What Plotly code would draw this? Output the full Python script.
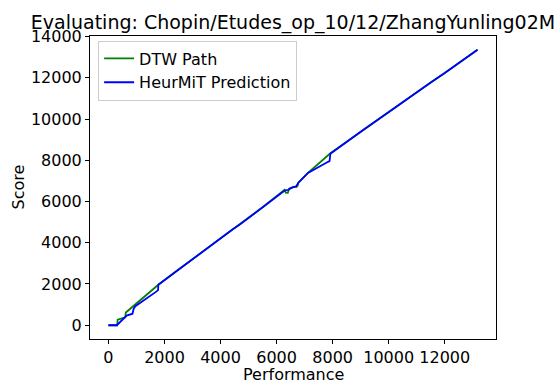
import plotly.graph_objects as go

# DTW path (performance time vs score time)
perf_dtw = [0, 310, 330, 600, 620, 1000, 1400, 1780, 2500, 3500, 4400, 4700,
            5500, 6280, 6330, 6400, 6440, 6540, 6620, 6700, 6750, 6770,
            7120, 7920, 9000, 10000, 11000, 11500, 12000, 12500, 13170]
score_dtw = [0, 0, 270, 380, 620, 1060, 1520, 1960, 2700, 3710, 4620, 4900,
             5720, 6560, 6430, 6420, 6580, 6680, 6720, 6700, 6760, 6900,
             7390, 8340, 9380, 10350, 11300, 11770, 12230, 12700, 13360]

# HeurMiT prediction
perf_heur = [0, 300, 650, 860, 900, 960, 1720, 1770, 1780, 2500, 3500, 4400, 4700,
             5500, 6300, 6420, 6460, 6700, 6770, 7120, 7420, 7790, 7890, 7920,
             9000, 10000, 11000, 11500, 12000, 12500, 13170]
score_heur = [0, 0, 470, 560, 800, 920, 1640, 1700, 1960, 2700, 3710, 4620, 4900,
              5720, 6540, 6570, 6630, 6740, 6900, 7390, 7630, 7890, 7960, 8320,
              9380, 10350, 11300, 11770, 12230, 12700, 13360]

x_ticks = [0, 2000, 4000, 6000, 8000, 10000, 12000]
x_tick_labels = ["0", "2000", "4000", "6000", "8000", "10000", "12000"]
y_ticks = [0, 2000, 4000, 6000, 8000, 10000, 12000, 14000]
y_tick_labels = ["0", "2000", "4000", "6000", "8000", "10000", "12000", "14000"]

FONT = "DejaVu Sans"
W, H = 558, 381
ML, MR, MT, MB = 90, 62, 36, 42
PW, PH = W - ML - MR, H - MT - MB

fig = go.Figure()
fig.add_trace(go.Scatter(x=perf_dtw, y=score_dtw, mode="lines", name="DTW Path",
                         line=dict(color="#008000", width=1.8)))
fig.add_trace(go.Scatter(x=perf_heur, y=score_heur, mode="lines", name="HeurMiT Prediction",
                         line=dict(color="#0000ff", width=1.8)))

axis_common = dict(
    showline=True, linecolor="black", linewidth=1, mirror=True,
    ticks="outside", ticklen=4, tickwidth=1, tickcolor="black",
    showgrid=False, zeroline=False,
    tickfont=dict(family=FONT, size=16, color="black"),
    automargin=False,
)

fig.update_layout(
    width=W, height=H,
    margin=dict(l=ML, r=MR, t=MT, b=MB),
    paper_bgcolor="white", plot_bgcolor="white",
    font=dict(family=FONT, size=16, color="black"),
    title=dict(text="Evaluating: Chopin/Etudes_op_10/12/ZhangYunling02M",
               x=0.5, xref="paper", xanchor="center",
               y=1 - 22 / H, yref="container", yanchor="middle",
               font=dict(family=FONT, size=19, color="black")),
    xaxis=dict(range=[-658, 13829], tickvals=x_ticks, ticktext=x_tick_labels,
               **axis_common),
    yaxis=dict(range=[-668, 14028], tickvals=y_ticks, ticktext=y_tick_labels,
               **axis_common),
    legend=dict(x=0.02, y=0.985, xanchor="left", yanchor="top",
                bgcolor="rgba(255,255,255,0.8)", bordercolor="#cccccc", borderwidth=1,
                font=dict(family=FONT, size=16, color="black"),
                tracegroupgap=0),
    showlegend=True,
    annotations=[
        dict(text="Performance", xref="paper", yref="paper",
             x=0.5, y=-(374 - (MT + PH)) / PH, xanchor="center", yanchor="middle",
             showarrow=False, font=dict(family=FONT, size=16, color="black")),
        dict(text="Score", xref="paper", yref="paper", textangle=-90,
             x=(18 - ML) / PW, y=0.5, xanchor="center", yanchor="middle",
             showarrow=False, font=dict(family=FONT, size=16, color="black")),
    ],
)

fig.write_html("out.html")
